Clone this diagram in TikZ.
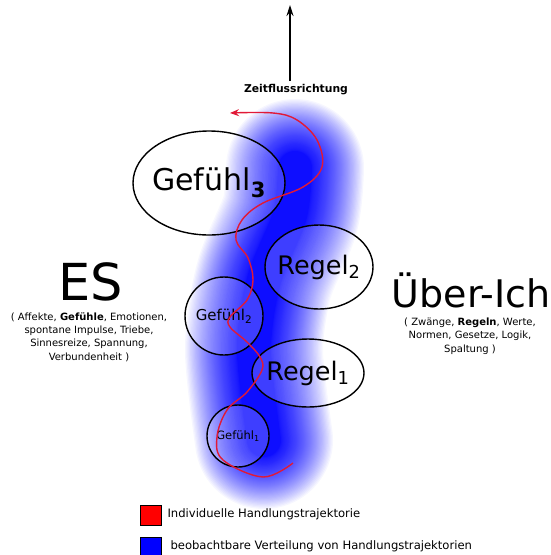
\documentclass[tikz,border=0pt]{standalone}
\usepackage{fontspec}
\setmainfont{DejaVu Sans}
\usetikzlibrary{shapes.geometric,arrows.meta}
\definecolor{trajred}{RGB}{225,25,55}
\tikzset{
  bubble/.style={draw, line width=1.4pt, ellipse, inner sep=0pt, fill=white, fill opacity=0.2},
  legendbox/.style={draw, line width=1pt, minimum width=21pt, minimum height=20pt, inner sep=0pt},
  note/.style={font=\fontsize{10}{13.3}\selectfont, align=center},
  legendtext/.style={font=\fontsize{11.6}{12}\selectfont, anchor=west},
}
\begin{document}
\begin{tikzpicture}[x=1pt,y=-1pt]
  \useasboundingbox (0,0) rectangle (550,555);

  % observed spread (blue cloud)
  \foreach \i in {0,...,79} {
    \pgfmathsetmacro{\w}{34+104*((79-\i)/79)^2}
    \draw[blue, opacity=0.037, line width=\w, line cap=round, line join=round]
      plot[smooth] coordinates {(295,168) (290,215) (264,280) (254,350) (264,440)};
  }

  % time arrow
  \coordinate (tbase) at (290,81);
  \coordinate (ttop) at (290,5);
  \draw[line width=1.4pt, -{Stealth[length=11pt,width=7pt]}] (tbase) -- (ttop);
  \node[font=\fontsize{10.8}{12}\bfseries] (zeit) at (296,90) {Zeitflussrichtung};

  % bubbles
  \node[bubble, minimum width=152pt, minimum height=104pt,
    label={[font=\fontsize{30}{30}\selectfont]center:Gefühl\textsubscript{\textbf{3}}}] (g3) at (209,183) {};
  \node[bubble, minimum width=108pt, minimum height=84pt,
    label={[font=\fontsize{25.5}{26}\selectfont]center:Regel\textsubscript{2}}] (r2) at (319,267) {};
  \node[bubble, circle, minimum size=78pt,
    label={[font=\fontsize{15}{15}\selectfont]center:Gefühl\textsubscript{2}}] (g2) at (224,316) {};
  \node[bubble, minimum width=112pt, minimum height=68pt,
    label={[font=\fontsize{25.5}{26}\selectfont]center:Regel\textsubscript{1}}] (r1) at (308,373) {};
  \node[bubble, circle, minimum size=62pt,
    label={[font=\fontsize{11.5}{12}\selectfont]center:Gefühl\textsubscript{1}}] (g1) at (238,436) {};

  % individual trajectory
  \draw[trajred, line width=1.4pt, -{Stealth[length=9pt,width=7pt]}]
    plot[smooth, tension=0.6] coordinates {
      (293,463) (263,477) (223,460) (217,437) (227,410) (247,392)
      (262,370) (260,357) (247,342) (230,327) (230,317) (247,300)
      (253,280) (248,258) (236,240) (242,220) (263,203) (303,187)
      (322,167) (317,140) (297,120) (273,113) (230,113)};

  % ES
  \node[font=\fontsize{51}{51}\selectfont, anchor=base] (es) at (91,300) {ES};
  \node[note] (esnote) at (89,337)
    {( Affekte, \textbf{Gefühle}, Emotionen,\\ spontane Impulse, Triebe,\\
     Sinnesreize, Spannung,\\ Verbundenheit )};

  % Ueber-Ich
  \node[font=\fontsize{38}{38}\selectfont, anchor=base] (ich) at (471,307) {Über-Ich};
  \node[note] (ichnote) at (470,336)
    {( Zwänge, \textbf{Regeln}, Werte,\\ Normen, Gesetze, Logik,\\ Spaltung )};

  % legend
  \node[legendbox, fill=red] (lred) at (151,515) {};
  \node[legendtext] (tred) at (164,514) {Individuelle Handlungstrajektorie};
  \node[legendbox, fill=blue] (lblue) at (151,547) {};
  \node[legendtext] (tblue) at (167,546) {beobachtbare Verteilung von Handlungstrajektorien};
\end{tikzpicture}
\end{document}
